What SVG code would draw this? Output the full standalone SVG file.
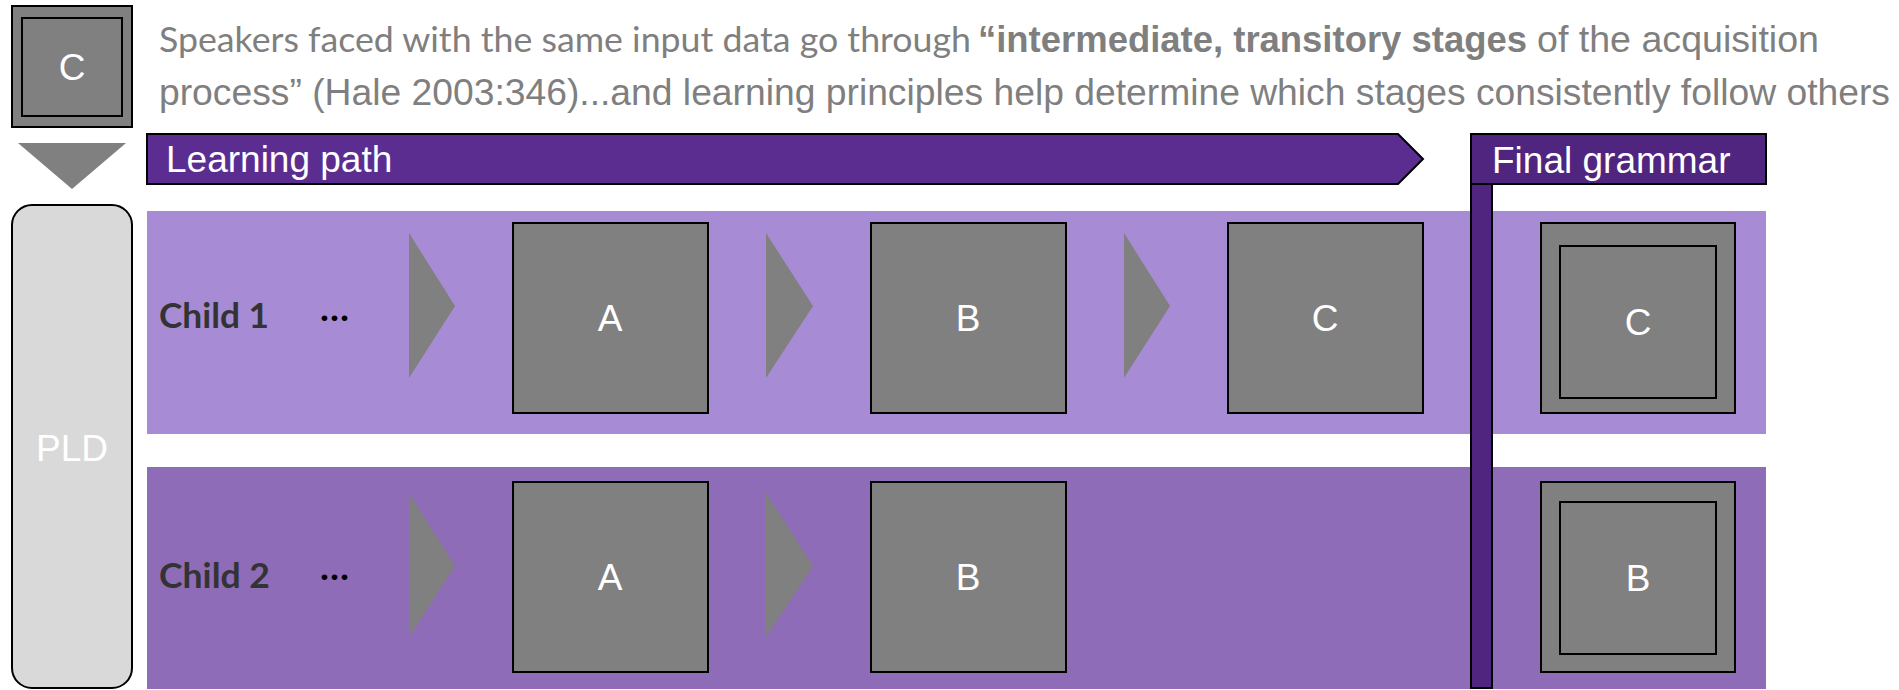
<svg xmlns="http://www.w3.org/2000/svg" width="1899" height="690" viewBox="0 0 1899 690">
  <style>
    .hdr { font-family: "Liberation Sans", Arial, sans-serif; font-size: 37px; fill: #7f7f7f; }
    .hdr-soft { font-family: Lato, "Source Sans Pro", sans-serif; font-size: 34px; fill: #7f7f7f; }
    .bold { font-weight: bold; }
    .bar-label { font-family: "Liberation Sans", Arial, sans-serif; font-size: 37px; fill: #ffffff; }
    .stage { fill: #808080; stroke: #000000; stroke-width: 2; }
    .stage-label { font-family: "Liberation Sans", Arial, sans-serif; font-size: 37px; fill: #ffffff; text-anchor: middle; }
    .child-label { font-family: Lato, "Source Sans Pro", sans-serif; font-weight: bold; font-size: 35px; fill: #333333; }
    .dots { font-family: Lato, sans-serif; font-weight: bold; font-size: 36px; fill: #000000; }
    .step { fill: #808080; }
    .band1 { fill: #a78bd5; }
    .band2 { fill: #8e6cb7; }
    .dark { fill: #50257f; stroke: #000000; stroke-width: 2; }
  </style>

  <!-- heading text -->
  <g id="heading">
    <text class="hdr-soft" x="159" y="52" textLength="812" lengthAdjust="spacingAndGlyphs">Speakers faced with the same input data go through</text>
    <text class="hdr bold" x="978" y="52" textLength="549" lengthAdjust="spacingAndGlyphs">“intermediate, transitory stages</text>
    <text class="hdr" x="1537" y="52" textLength="282" lengthAdjust="spacingAndGlyphs">of the acquisition</text>
    <text class="hdr" x="159" y="105" textLength="1731" lengthAdjust="spacingAndGlyphs">process” (Hale 2003:346)...and learning principles help determine which stages consistently follow others</text>
  </g>

  <!-- row backgrounds -->
  <g id="row-child-1-band">
    <rect class="band1" x="147" y="211" width="1619" height="223"/>
  </g>
  <g id="row-child-2-band">
    <rect class="band2" x="147" y="467" width="1619" height="222"/>
  </g>

  <!-- target grammar shown to the learners -->
  <g id="target-grammar">
    <rect class="stage" x="12" y="6" width="120" height="121"/>
    <rect class="stage" x="22" y="18" width="100" height="98"/>
    <text class="stage-label" x="72" y="80">C</text>
  </g>

  <!-- primary linguistic data -->
  <g id="pld">
    <rect x="12" y="205" width="120" height="483" rx="20" ry="20" fill="#d9d9d9" stroke="#000000" stroke-width="2"/>
    <text class="stage-label" x="72" y="461">PLD</text>
  </g>

  <!-- headers -->
  <g id="learning-path">
    <polygon points="147,134 1398,134 1423,159 1398,184 147,184" fill="#5c2d91" stroke="#000000" stroke-width="2"/>
    <text class="bar-label" x="166" y="172">Learning path</text>
  </g>
  <g id="final-grammar">
    <rect class="dark" x="1471" y="184" width="21" height="504"/>
    <rect class="dark" x="1471" y="134" width="295" height="50"/>
    <text class="bar-label" x="1492" y="173">Final grammar</text>
  </g>

  <!-- child labels -->
  <g id="child-1-label">
    <text class="child-label" x="159" y="328" textLength="110" lengthAdjust="spacingAndGlyphs">Child 1</text>
    <text class="dots" x="320" y="321" textLength="29" lengthAdjust="spacingAndGlyphs">…</text>
  </g>
  <g id="child-2-label">
    <text class="child-label" x="159" y="588" textLength="111" lengthAdjust="spacingAndGlyphs">Child 2</text>
    <text class="dots" x="320" y="580" textLength="29" lengthAdjust="spacingAndGlyphs">…</text>
  </g>

  <!-- child 1 stages -->
  <g id="child-1-stage-a">
    <rect class="stage" x="513" y="223" width="195" height="190"/>
    <text class="stage-label" x="610" y="331">A</text>
  </g>
  <g id="child-1-stage-b">
    <rect class="stage" x="871" y="223" width="195" height="190"/>
    <text class="stage-label" x="968" y="331">B</text>
  </g>
  <g id="child-1-stage-c">
    <rect class="stage" x="1228" y="223" width="195" height="190"/>
    <text class="stage-label" x="1325" y="331">C</text>
  </g>
  <g id="child-1-final">
    <rect class="stage" x="1541" y="223" width="194" height="190"/>
    <rect class="stage" x="1560" y="246" width="156" height="152"/>
    <text class="stage-label" x="1638" y="335">C</text>
  </g>

  <!-- child 2 stages -->
  <g id="child-2-stage-a">
    <rect class="stage" x="513" y="482" width="195" height="190"/>
    <text class="stage-label" x="610" y="590">A</text>
  </g>
  <g id="child-2-stage-b">
    <rect class="stage" x="871" y="482" width="195" height="190"/>
    <text class="stage-label" x="968" y="590">B</text>
  </g>
  <g id="child-2-final">
    <rect class="stage" x="1541" y="482" width="194" height="190"/>
    <rect class="stage" x="1560" y="502" width="156" height="152"/>
    <text class="stage-label" x="1638" y="591">B</text>
  </g>

  <!-- step arrows -->
  <g id="connectors">
    <polygon class="step" points="18,143 126,143 72,189"/>
    <polygon class="step" points="409,233 455,306 409,378"/>
    <polygon class="step" points="766,233 813,306 766,378"/>
    <polygon class="step" points="1124,233 1170,306 1124,378"/>
    <polygon class="step" points="409,493 455,566 409,637"/>
    <polygon class="step" points="766,493 813,566 766,637"/>
  </g>
</svg>
